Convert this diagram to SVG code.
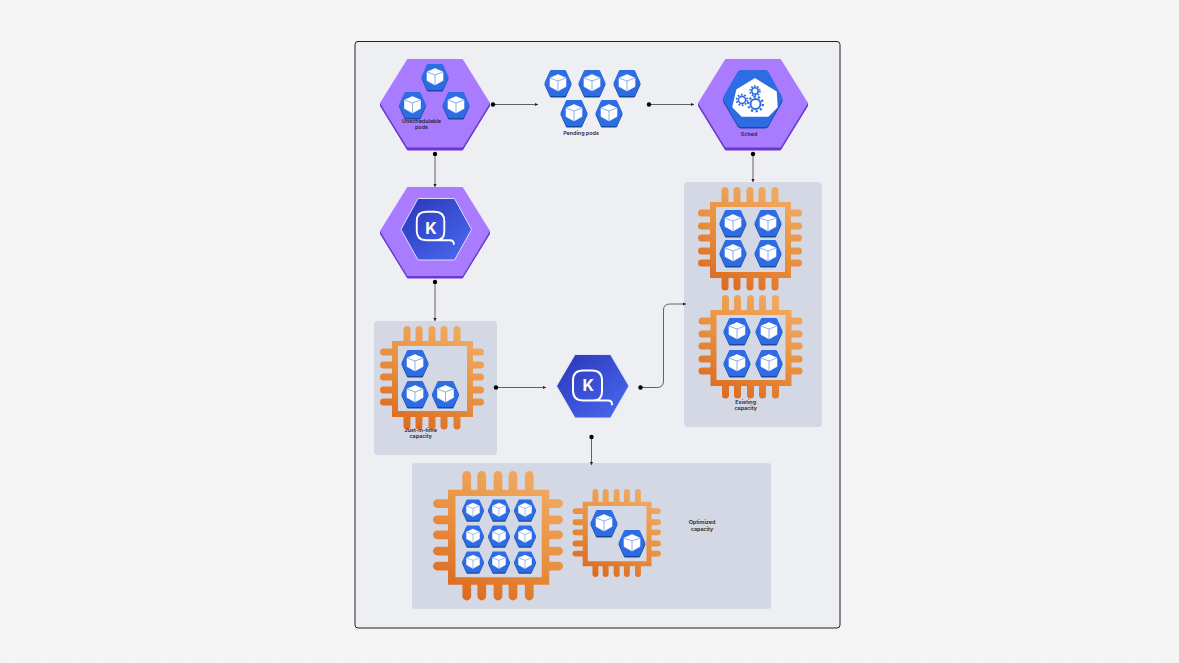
<svg xmlns="http://www.w3.org/2000/svg" width="1179" height="663" viewBox="0 0 1179 663">
<style>
text{font-family:"Inter","Liberation Sans",sans-serif;font-size:5.4px;font-weight:600;fill:#24242c;text-anchor:middle}
.k{font-size:16px;font-weight:700;fill:#fff}
.conn{fill:none;stroke:#3c3c44;stroke-width:.8;marker-end:url(#arr)}
.dot{fill:#000}
.panel{fill:#d4d8e4}
.phex{fill:#a97bff;stroke:#a97bff;stroke-width:1;stroke-linejoin:round}
.phexs{fill:#6a38d0;stroke:#6a38d0;stroke-width:1;stroke-linejoin:round}
.pin{stroke:url(#chipg);stroke-width:7;stroke-linecap:round;fill:none}
.gear{fill:none;stroke:#2e6ce4}
</style>
<defs>
<pattern id="grid" x="0" y="3" width="11" height="11" patternUnits="userSpaceOnUse"><circle cx="5.5" cy="5.5" r=".6" fill="#e2e2e2"/></pattern>
<marker id="arr" markerUnits="userSpaceOnUse" markerWidth="4" markerHeight="4" refX="3" refY="2" orient="auto"><path d="M0 .4L3 2L0 3.6z" fill="#222"/></marker>
<linearGradient id="chipg" gradientUnits="userSpaceOnUse" x1="25" y1="100" x2="72" y2="5"><stop offset="0" stop-color="#dc6c22"/><stop offset=".5" stop-color="#e8903f"/><stop offset="1" stop-color="#f0a85f"/></linearGradient>
<linearGradient id="kg" x1="0" y1="0" x2="1" y2="1"><stop offset="0" stop-color="#2a35b8"/><stop offset="1" stop-color="#4a6cf2"/></linearGradient>
<g id="pod">
<path d="M-12 1.500L-6.800 -10L6.800 -10L12 1.500L6.800 13L-6.800 13z" fill="#174a9e" stroke="#174a9e" stroke-width="3" stroke-linejoin="round"/>
<path d="M-12 0L-6.800 -11.500L6.800 -11.500L12 0L6.800 11.500L-6.800 11.500z" fill="#2e6ce4" stroke="#2e6ce4" stroke-width="3" stroke-linejoin="round"/>
<path d="M0 -8.500L8 -5L8 3.500L0 8L-8 3.500L-8 -5z" fill="#fff" stroke="#fff" stroke-width=".6" stroke-linejoin="round"/>
<path d="M-8 -5L0 -2L8 -5M0 -2L0 8" fill="none" stroke="#6f9bea" stroke-width=".8"/>
</g>
<g id="chip">
<path class="pin" d="M27 3.500V16M39 3.500V16M52 3.500V16M64 3.500V16M77 3.500V16M27 90V100M39 90V100M52 90V100M64 90V100M77 90V100M3.500 26H13M3.500 39H13M3.500 51H13M3.500 64H13M3.500 76H13M92 26H100.500M92 39H100.500M92 51H100.500M92 64H100.500M92 76H100.500"/>
<path fill="url(#chipg)" fill-rule="evenodd" d="M12 15H93V91H12zM18 20V85H87V20z"/>
</g>
<g id="kicon">
<path d="M-5 -15H4Q14 -15 14 -5V6Q14 15 5 15H-5Q-15 15 -15 5V-5Q-15 -15 -5 -15zM5 15H20Q24 15 24 19" fill="none" stroke="#fff" stroke-width="2" stroke-linecap="round" stroke-linejoin="round"/>
</g>
</defs>
<rect width="1179" height="663" fill="#f5f5f5"/>
<rect width="1179" height="663" fill="url(#grid)"/>
<rect x="355" y="41.500" width="485" height="586.500" rx="3" fill="#eeeff2" stroke="#1e1e24" stroke-width="1"/>

<rect class="panel" x="684" y="182" width="138" height="245" rx="4"/>
<rect class="panel" x="374" y="321" width="123" height="134" rx="4"/>
<rect class="panel" x="412" y="463" width="359" height="146" rx="3"/>

<g id="connectors">
<path class="conn" d="M493 104.500H538"/>
<path class="conn" d="M649 104.500H694"/>
<path class="conn" d="M435 154V187"/>
<path class="conn" d="M753 154V182"/>
<path class="conn" d="M435 282V321"/>
<path class="conn" d="M496 387.500H546"/>
<path class="conn" d="M640 387.500H657Q663.500 387.500 663.500 381V310Q663.500 304 670 304H686"/>
<path class="conn" d="M591.500 437V465"/>
<circle class="dot" cx="493" cy="104.500" r="2.200"/>
<circle class="dot" cx="649" cy="104.500" r="2.200"/>
<circle class="dot" cx="435" cy="154" r="2.200"/>
<circle class="dot" cx="753" cy="154" r="2.200"/>
<circle class="dot" cx="435" cy="282" r="2.200"/>
<circle class="dot" cx="496" cy="387.500" r="2.200"/>
<circle class="dot" cx="640.500" cy="387.500" r="2.200"/>
<circle class="dot" cx="591.500" cy="437" r="2.200"/>
</g>

<g id="unschedulable-pods">
<path class="phexs" d="M380.500 106L407.500 150L462.500 150L489.500 106L489.500 103L380.500 103z"/>
<path class="phex" d="M380.500 103L407.500 59.500L462.500 59.500L489.500 103L462.500 147L407.500 147z"/>
<use href="#pod" x="435" y="77"/>
<use href="#pod" x="412.500" y="105"/>
<use href="#pod" x="456" y="105"/>
<text x="421.500" y="122.800">Unschedulable</text>
<text x="421.500" y="129">pods</text>
</g>

<g id="pending-pods">
<use href="#pod" x="558" y="83"/>
<use href="#pod" x="592" y="83"/>
<use href="#pod" x="627" y="83"/>
<use href="#pod" x="574" y="113"/>
<use href="#pod" x="609" y="113"/>
<text x="581" y="135">Pending pods</text>
</g>

<g id="sched">
<path class="phexs" d="M698.500 106L725.500 150L780.500 150L807.500 106L807.500 103L698.500 103z"/>
<path class="phex" d="M698.500 103L725.500 59.500L780.500 59.500L807.500 103L780.500 147L725.500 147z"/>
<path d="M727 100.500L741 75.500L765 75.500L778.500 100.500L765 124.500L741 124.500z" fill="#174a9e" stroke="#174a9e" stroke-width="8" stroke-linejoin="round"/>
<path d="M727 98.500L741 74L765 74L778.500 98.500L765 123L741 123z" fill="#2e6ce4" stroke="#2e6ce4" stroke-width="8" stroke-linejoin="round"/>
<path d="M755 79L776 92L777 107L768 116L742 116L733 107L737 90z" fill="#fff" stroke="#fff" stroke-width="1.500" stroke-linejoin="round"/>
<circle class="gear" cx="742" cy="100" r="3.600" stroke-width="1.600"/>
<circle class="gear" cx="742" cy="100" r="5.400" stroke-width="1.800" stroke-dasharray="1.700 1.690"/>
<circle class="gear" cx="755" cy="91" r="3.200" stroke-width="1.500"/>
<circle class="gear" cx="755" cy="91" r="4.900" stroke-width="1.700" stroke-dasharray="1.600 1.480"/>
<circle class="gear" cx="755.500" cy="104" r="5" stroke-width="2"/>
<circle class="gear" cx="755.500" cy="104" r="7.400" stroke-width="2.200" stroke-dasharray="2.200 2.450"/>
<text x="749" y="135.800">Sched</text>
</g>

<g id="karpenter-purple">
<path class="phexs" d="M380.500 234L407.500 278L462.500 278L489.500 234L489.500 231L380.500 231z"/>
<path class="phex" d="M380.500 231L407.500 187.500L462.500 187.500L489.500 231L462.500 275.500L407.500 275.500z"/>
<path d="M401 229.500L418 198.500L454.500 198.500L471.500 229.500L454.500 260L418 260z" fill="url(#kg)" stroke="#dcdcf8" stroke-width="1"/>
<use href="#kicon" transform="translate(431 226) scale(.95)"/>
<text class="k" x="431" y="233.500">K</text>
</g>

<g id="karpenter">
<path d="M556.500 386L575 354.500L610.500 354.500L629 386L610.500 418L575 418z" fill="url(#kg)" stroke="#e4e4f6" stroke-width="1"/>
<use href="#kicon" x="588" y="385.500"/>
<text class="k" x="588.300" y="391">K</text>
</g>

<g id="existing-capacity">
<use href="#chip" transform="translate(698 187)"/>
<use href="#chip" transform="translate(698.500 295)"/>
<use href="#pod" x="733" y="223"/>
<use href="#pod" x="768" y="223"/>
<use href="#pod" x="733" y="253"/>
<use href="#pod" x="768" y="253"/>
<use href="#pod" x="737" y="331"/>
<use href="#pod" x="769" y="331"/>
<use href="#pod" x="737" y="363"/>
<use href="#pod" x="769" y="363"/>
<text x="745.700" y="403.800">Existing</text>
<text x="745.700" y="410">capacity</text>
</g>

<g id="just-in-time-capacity">
<use href="#chip" transform="translate(380 326)"/>
<use href="#pod" x="415" y="363"/>
<use href="#pod" x="415" y="394"/>
<use href="#pod" x="445.500" y="394"/>
<text x="420.700" y="431.800">Just-in-time</text>
<text x="420.700" y="438">capacity</text>
</g>

<g id="optimized-capacity">
<use href="#chip" transform="translate(433 471) scale(1.250)"/>
<use href="#chip" transform="translate(572.500 489) scale(.85)"/>
<use href="#pod" transform="translate(473 510) scale(.81)"/>
<use href="#pod" transform="translate(499 510) scale(.81)"/>
<use href="#pod" transform="translate(525 510) scale(.81)"/>
<use href="#pod" transform="translate(473 536) scale(.81)"/>
<use href="#pod" transform="translate(499 536) scale(.81)"/>
<use href="#pod" transform="translate(525 536) scale(.81)"/>
<use href="#pod" transform="translate(473 562) scale(.81)"/>
<use href="#pod" transform="translate(499 562) scale(.81)"/>
<use href="#pod" transform="translate(525 562) scale(.81)"/>
<use href="#pod" x="604" y="523"/>
<use href="#pod" x="632" y="543"/>
<text x="702" y="523.800">Optimized</text>
<text x="702" y="530.800">capacity</text>
</g>
</svg>
